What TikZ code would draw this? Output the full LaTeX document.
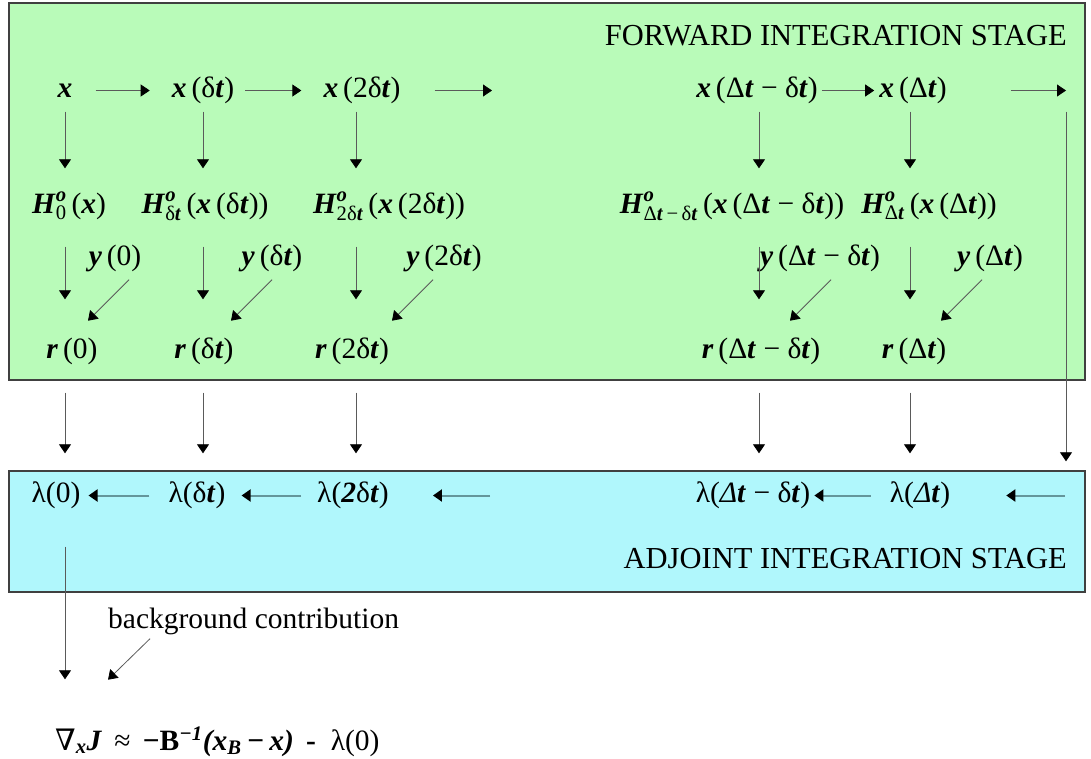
\documentclass[tikz,border=0pt]{standalone}
\usepackage{amsmath}
\usepackage{fontspec}
\setmainfont{Liberation Serif}
\newfontfamily\symfnt{DejaVu Serif}
\usepackage{tikz}
\usetikzlibrary{arrows.meta, positioning, calc}
\definecolor{fwdgreen}{RGB}{185, 251, 185}
\definecolor{adjcyan}{RGB}{176, 247, 252}
\definecolor{boxedge}{RGB}{64, 64, 64}
\definecolor{flowgray}{RGB}{90, 90, 90}
\definecolor{adjline}{RGB}{100, 150, 155}
\newcommand{\bi}[1]{\textbf{\textit{#1}}}
\tikzset{
  lbl/.style={inner sep=0pt, text height=20pt, text depth=7pt, font=\fontsize{29.5}{34}\selectfont},
  title/.style={lbl, font=\fontsize{30.5}{35}\selectfont},
  flow/.style={-{Triangle[width=12pt,length=9pt,black]}, draw=flowgray, line width=0.8pt},
  adjflow/.style={flow, draw=adjline, line width=2pt},
  stagebox/.style={draw=boxedge, line width=1.2pt},
}
\begin{document}
\begin{tikzpicture}[x=1pt, y=1pt]
        \useasboundingbox (0,0) rectangle (1091,-758);

        % Stage boxes
        \draw[stagebox, fill=fwdgreen] (9,-3) rectangle (1085,-380);
        \draw[stagebox, fill=adjcyan] (9,-471) rectangle (1085,-592);
        \node[title, anchor=east] (fwd) at (1067,-38.5) {FORWARD INTEGRATION STAGE};
        \node[title, anchor=east] (adj) at (1067,-561.5) {ADJOINT INTEGRATION STAGE};

        % Model states
        \node[lbl] (x0) at (65,-90.5) {\bi{x}};
        \node[lbl] (x1) at (203,-90.5) {\bi{x}\,(δ\bi{t})};
        \node[lbl] (x2) at (362,-90.5) {\bi{x}\,(2δ\bi{t})};
        \node[lbl] (xm) at (757,-90.5) {\bi{x}\,(Δ\bi{t} − δ\bi{t})};
        \node[lbl] (xn) at (913,-90.5) {\bi{x}\,(Δ\bi{t})};
        \coordinate (gap1) at (492,-90.5);
        \coordinate (fwdend) at (1066,-90.5);

        % Observation operators
        \node[lbl] (H0) at (69,-206.5) {$\bi{H}^{\bi{o}}_{\text{0}}$\,(\bi{x})};
        \node[lbl] (H1) at (205,-206.5) {$\bi{H}^{\bi{o}}_{\text{δ\bi{t}}}$\,(\bi{x}\,(δ\bi{t}))};
        \node[lbl] (H2) at (389,-206.5) {$\bi{H}^{\bi{o}}_{\text{2δ\bi{t}}}$\,(\bi{x}\,(2δ\bi{t}))};
        \node[lbl] (Hm) at (732,-206.5) {$\bi{H}^{\bi{o}}_{\text{Δ\bi{t}\,−\,δ\bi{t}}}$\,(\bi{x}\,(Δ\bi{t} − δ\bi{t}))};
        \node[lbl] (Hn) at (929,-206.5) {$\bi{H}^{\bi{o}}_{\text{Δ\bi{t}}}$\,(\bi{x}\,(Δ\bi{t}))};

        % Observations
        \node[lbl] (y0) at (115,-258.5) {\bi{y}\,(0)};
        \node[lbl] (y1) at (272,-258.5) {\bi{y}\,(δ\bi{t})};
        \node[lbl] (y2) at (444,-258.5) {\bi{y}\,(2δ\bi{t})};
        \node[lbl] (ym) at (820,-258.5) {\bi{y}\,(Δ\bi{t} − δ\bi{t})};
        \node[lbl] (yn) at (990,-258.5) {\bi{y}\,(Δ\bi{t})};

        % Residuals
        \node[lbl] (r0) at (72,-351.5) {\bi{r}\,(0)};
        \node[lbl] (r1) at (204,-351.5) {\bi{r}\,(δ\bi{t})};
        \node[lbl] (r2) at (352,-351.5) {\bi{r}\,(2δ\bi{t})};
        \node[lbl] (rm) at (761,-351.5) {\bi{r}\,(Δ\bi{t} − δ\bi{t})};
        \node[lbl] (rn) at (914,-351.5) {\bi{r}\,(Δ\bi{t})};

        % Adjoint variables
        \node[lbl] (l0) at (56,-495.5) {λ(0)};
        \node[lbl] (l1) at (197,-495.5) {λ(δ\bi{t})};
        \node[lbl] (l2) at (353,-495.5) {λ(\bi{2}δ\bi{t})};
        \node[lbl] (lm) at (753,-495.5) {λ(\textit{Δ}\bi{t} − δ\bi{t})};
        \node[lbl] (ln) at (920,-495.5) {λ(\textit{Δ}\bi{t})};
        \coordinate (lgap) at (490,-495.5);
        \coordinate (lend) at (1065,-495.5);

        % Gradient
        \node[lbl, anchor=west] (bg) at (108,-621.5) {background contribution};
        \node[lbl, anchor=west] (grad) at (55,-743.5) {{\symfnt ∇}$_{\bi{x}}$\bi{J}\, ≈\, \textbf{−B}$^{\bi{−1}}$\bi{(x$_{\bi{B}}$\,−\,x)}\, \textbf{-}\ \ λ(0)};

        % Forward steps
        \draw[flow, shorten <=23pt, shorten >=22pt] (x0) -- (x1);
        \draw[flow, shorten <=11pt, shorten >=22pt] (x1) -- (x2);
        \draw[flow, shorten <=34pt] (x2) -- (gap1);
        \draw[flow, shorten <=4pt, shorten >=5pt] (xm) -- (xn);
        \draw[flow, shorten <=64pt] (xn) -- (fwdend);
        \draw[flow, shorten <=21pt, shorten >=20.5pt] (fwdend) -- (fwdend |- ln.north);

        % States to observation operators
        \draw[flow, shorten <=7.5pt, shorten >=24.5pt] (x0) -- (x0 |- H0.north);
        \draw[flow, shorten <=7.5pt, shorten >=24.5pt] (x1) -- (x1 |- H1.north);
        \draw[flow, shorten <=7.5pt, shorten >=24.5pt] ([xshift=-6pt]x2.south) -- ([xshift=-6pt]x2.south |- H2.north);
        \draw[flow, shorten <=7.5pt, shorten >=24.5pt] ([xshift=2pt]xm.south) -- ([xshift=2pt]xm.south |- Hm.north);
        \draw[flow, shorten <=7.5pt, shorten >=24.5pt] ([xshift=-3pt]xn.south) -- ([xshift=-3pt]xn.south |- Hn.north);

        % Observation operators to residuals
        \draw[flow, shorten <=26.5pt, shorten >=38.5pt] (x0 |- H0.south) -- (x0 |- r0.north);
        \draw[flow, shorten <=26.5pt, shorten >=38.5pt] (x1 |- H1.south) -- (x1 |- r1.north);
        \draw[flow, shorten <=26.5pt, shorten >=38.5pt] ([xshift=-6pt]x2 |- H2.south) -- ([xshift=-6pt]x2 |- r2.north);
        \draw[flow, shorten <=26.5pt, shorten >=38.5pt] ([xshift=2pt]xm |- Hm.south) -- ([xshift=2pt]xm |- rm.north);
        \draw[flow, shorten <=26.5pt, shorten >=38.5pt] ([xshift=-3pt]xn |- Hn.south) -- ([xshift=-3pt]xn |- rn.north);

        % Observations to residuals
        \draw[flow] ([xshift=14pt,yshift=-7.5pt]y0.south) -- ++(-41,-41);
        \draw[flow] ([yshift=-7.5pt]y1.south) -- ++(-41,-41);
        \draw[flow] ([xshift=-11pt,yshift=-7.5pt]y2.south) -- ++(-41,-41);
        \draw[flow] ([xshift=11pt,yshift=-7.5pt]ym.south) -- ++(-41,-41);
        \draw[flow] ([xshift=-8pt,yshift=-7.5pt]yn.south) -- ++(-41,-41);

        % Residuals forcing the adjoint
        \draw[flow, shorten <=27.5pt, shorten >=28.5pt] (x0 |- r0.south) -- (x0 |- l0.north);
        \draw[flow, shorten <=27.5pt, shorten >=28.5pt] (x1 |- r1.south) -- (x1 |- l1.north);
        \draw[flow, shorten <=27.5pt, shorten >=28.5pt] ([xshift=-6pt]x2 |- r2.south) -- ([xshift=-6pt]x2 |- l2.north);
        \draw[flow, shorten <=27.5pt, shorten >=28.5pt] ([xshift=2pt]xm |- rm.south) -- ([xshift=2pt]xm |- lm.north);
        \draw[flow, shorten <=27.5pt, shorten >=28.5pt] ([xshift=-3pt]xn |- rn.south) -- ([xshift=-3pt]xn |- ln.north);

        % Backward steps
        \draw[adjflow, shorten >=56pt] (lend) -- (ln);
        \draw[adjflow, shorten <=19pt, shorten >=4pt] (ln) -- (lm);
        \draw[adjflow, shorten >=44pt] (lgap) -- (l2);
        \draw[adjflow, shorten <=16pt, shorten >=16pt] (l2) -- (l1);
        \draw[adjflow, shorten <=19pt, shorten >=8pt] (l1) -- (l0);

        % Gradient contributions
        \draw[flow, shorten <=37.5pt, shorten >=50.5pt] (x0 |- l0.south) -- (x0 |- grad.north);
        \draw[flow] ([xshift=42pt,yshift=-3.5pt]bg.south west) -- ++(-42,-41);
\end{tikzpicture}
\end{document}
